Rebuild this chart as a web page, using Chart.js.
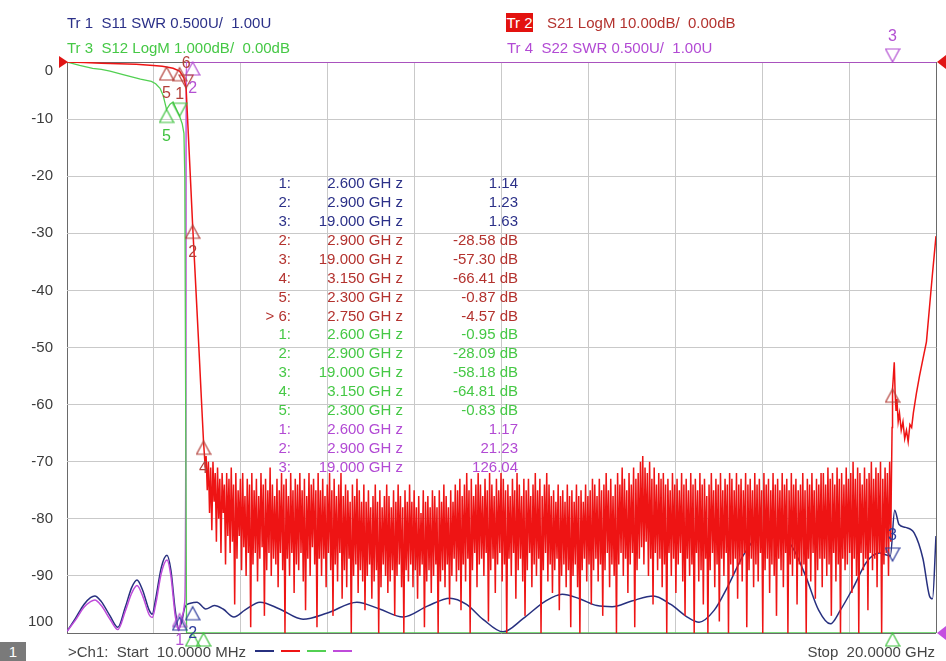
<!DOCTYPE html>
<html>
<head>
<meta charset="utf-8">
<script src="https://cdn.jsdelivr.net/npm/chart.js@4.4.1/dist/chart.umd.min.js"></script>
<style>
    html, body { margin: 0; padding: 0; background: #fff; }
    #wrap { position: relative; width: 946px; height: 661px; overflow: hidden; font-family: "Liberation Sans", Arial, sans-serif; }
    #vna { position: absolute; left: 0; top: 0; }
    .t { position: absolute; white-space: pre; font-size: 15px; line-height: 18px; }
    .r { text-align: right; }
    .c1 { color: #2b3088; }
    .c2 { color: #b3322e; }
    .c3 { color: #45c845; }
    .c4 { color: #b24ad4; }
    #tr2box { position: absolute; left: 506px; top: 13px; width: 27px; height: 19px; background: #e3120f; color: #fff; font-size: 15px; line-height: 19px; text-align: center; }
    #chbox { position: absolute; left: 0; top: 642px; width: 26px; height: 19px; background: #7a7a7a; color: #fff; font-size: 15px; line-height: 19px; text-align: center; }
    .dash { position: absolute; top: 650px; width: 19px; height: 2px; }
</style>
</head>
<body>
<div id="wrap">
    <canvas id="vna" width="946" height="661"></canvas>
    <div id="overlay"></div>
</div>
<script>
// --- Stimulus / axes ---
const xStart = 0.01;   // GHz
const xStop = 20.0;    // GHz
const yTickValues = [0, -10, -20, -30, -40, -50, -60, -70, -80, -90, -100];
const yTickLabels = ['0', '-10', '-20', '-30', '-40', '-50', '-60', '-70', '-80', '-90', '100'];

// --- Tr1 S11 SWR (screen units, 10 per division) ---
const s11Freq = [0.01, 0.2, 0.4, 0.55, 0.65, 0.8, 1.0, 1.18, 1.35, 1.5, 1.62, 1.75, 1.9, 1.97, 2.05, 2.18, 2.31, 2.4, 2.5, 2.58,
    2.65, 2.72, 2.85, 3.0, 3.2, 3.4, 3.6, 3.85, 4.1, 4.45, 4.9, 5.44, 6.0, 6.68, 7.2, 7.74, 8.3, 8.82, 9.2, 9.58,
    10.04, 10.5, 11.0, 11.4, 11.8, 12.2, 12.55, 13.0, 13.5, 13.9, 14.3, 14.55, 14.9, 15.2, 15.56, 15.9, 16.3, 16.7, 17.0, 17.3,
    17.57, 17.8, 18.1, 18.4, 18.7, 18.95, 19.05, 19.15, 19.3, 19.5, 19.7, 19.85, 19.92, 20.0];
const s11Val = [-99.7, -97.5, -95, -93.8, -93.5, -94.5, -97, -99, -95.5, -92, -90.7, -92.5, -96, -96.7, -94, -88.5, -86.4, -89, -96, -99.2,
    -98, -95.5, -94.8, -94.6, -95.8, -95.2, -95.8, -97.2, -96, -94.6, -95.8, -97.6, -96.5, -94.6, -95.8, -97.2, -95.3, -93.9, -95, -97.6,
    -99.8, -97.5, -94.5, -93.2, -94, -95.2, -95.4, -94.4, -93.5, -95, -97.3, -98.1, -96, -92, -86.5, -83, -82, -85, -90, -96,
    -98.4, -96, -92, -87.6, -86, -86.5, -78.5, -81, -81.5, -82.5, -87, -93.5, -94, -83];

// --- Tr4 S22 SWR (screen units, clipped at top) ---
const s22Freq = [0.01, 0.2, 0.4, 0.55, 0.65, 0.8, 1.0, 1.18, 1.35, 1.5, 1.62, 1.75, 1.9, 1.97, 2.05, 2.18, 2.31, 2.4, 2.5, 2.58,
    2.65, 2.72, 2.745, 2.75, 20.0];
const s22Val = [-99.7, -97.8, -95.5, -94.5, -94.2, -95.2, -97.6, -99.4, -96.2, -93, -91.7, -93.5, -96.8, -97.3, -95, -89.5, -87.2, -90, -97, -99.6,
    -97.2, -94.5, -60, 0, 0];

// --- Tr3 S12 LogM 1 dB/div (screen units, clipped at bottom) ---
const s12Freq = [0.01, 0.15, 0.3, 0.6, 0.8, 1.0, 1.3, 1.5, 1.7, 1.95, 2.05, 2.15, 2.22, 2.3, 2.38, 2.45, 2.52, 2.6, 2.66, 2.7,
    2.72, 2.74, 2.76, 20.0];
const s12Val = [0, -0.3, -0.6, -1.1, -1.3, -1.6, -2.2, -2.6, -3.0, -3.4, -3.8, -4.6, -5.8, -8.3, -7.4, -7.0, -8.2, -9.5, -10.8, -12.5,
    -20, -60, -100, -100];

// --- Tr2 S21 LogM 10 dB/div ---
const s21PassFreq = [0.01, 0.4, 0.8, 1.2, 1.6, 2.0, 2.2, 2.3, 2.45, 2.6, 2.7, 2.75, 2.8, 2.85, 2.9, 2.95, 3.0, 3.05, 3.1, 3.15, 3.19];
const s21PassVal = [0, -0.1, -0.2, -0.3, -0.4, -0.6, -0.75, -0.87, -1.1, -1.6, -2.8, -4.57, -12.5, -20.5, -28.58, -36, -43.5, -51, -58.8, -66.41, -71];

// stopband noise floor, sweep points from 3.21 to 18.96 GHz
const s21NoiseStart = 3.21;
const s21NoiseStop = 18.96;
const s21Noise = [
    -69, -75, -70, -79, -71, -82, -70, -77, -72, -84, -71, -80, -73, -86, -72, -79, -74, -88, -72, -83,
    -73, -86, -71, -84, -74, -95, -72, -87, -75, -83, -73, -89, -72, -85, -76, -90, -73, -86, -74, -99,
    -72, -88, -75, -86, -73, -91, -76, -87, -72, -85, -74, -97, -73, -89, -75, -86, -71, -90, -74, -87,
    -76, -88, -73, -92, -75, -86, -72, -89, -74, -100, -73, -87, -76, -90, -72, -86, -75, -93, -73, -88,
    -74, -89, -72, -86, -75, -91, -73, -96, -76, -87, -72, -90, -74, -85, -73, -88, -75, -99, -72, -87,
    -75, -90, -73, -87, -76, -92, -74, -86, -72, -89, -75, -97, -73, -88, -76, -91, -74, -86, -72, -94,
    -76, -89, -74, -92, -75, -87, -77, -100, -74, -90, -76, -88, -73, -93, -75, -89, -77, -91, -74, -96,
    -77, -90, -75, -88, -78, -94, -76, -91, -74, -89, -77, -100, -75, -92, -78, -88, -76, -90, -74, -93,
    -76, -91, -78, -89, -75, -97, -77, -90, -74, -88, -76, -92, -78, -100, -75, -89, -77, -91, -74, -88,
    -77, -92, -75, -89, -78, -94, -76, -90, -79, -88, -75, -99, -77, -91, -76, -89, -78, -93, -75, -90,
    -76, -88, -78, -100, -75, -91, -77, -89, -74, -92, -76, -88, -78, -95, -75, -90, -77, -87, -74, -91,
    -75, -89, -73, -96, -76, -88, -74, -91, -72, -87, -75, -100, -73, -89, -76, -86, -74, -92, -72, -88,
    -74, -87, -76, -90, -73, -86, -75, -98, -72, -89, -74, -87, -76, -93, -73, -88, -75, -86, -72, -91,
    -73, -88, -75, -100, -74, -87, -76, -90, -73, -86, -75, -94, -72, -89, -74, -87, -76, -91, -73, -97,
    -75, -89, -73, -86, -76, -92, -74, -88, -72, -90, -75, -87, -73, -100, -76, -89, -74, -86, -72, -91,
    -74, -88, -76, -93, -75, -89, -77, -87, -74, -96, -76, -90, -75, -88, -77, -92, -74, -89, -76, -99,
    -75, -90, -77, -88, -74, -92, -76, -100, -75, -89, -77, -87, -74, -91, -76, -88, -75, -95, -73, -89,
    -74, -87, -76, -91, -73, -88, -75, -97, -74, -89, -72, -86, -75, -92, -73, -88, -76, -90, -74, -100,
    -72, -88, -74, -86, -71, -90, -73, -87, -75, -93, -72, -88, -74, -86, -71, -99, -73, -89, -72, -87,
    -70, -85, -69, -88, -71, -84, -72, -90, -70, -87, -73, -95, -71, -86, -74, -89, -72, -87, -73, -92,
    -72, -88, -74, -100, -73, -86, -75, -90, -72, -87, -74, -93, -73, -88, -75, -86, -72, -91, -74, -97,
    -73, -87, -75, -90, -72, -88, -74, -100, -73, -86, -75, -91, -72, -89, -74, -95, -73, -87, -76, -100,
    -74, -89, -72, -86, -75, -92, -73, -88, -74, -98, -72, -87, -75, -90, -73, -86, -74, -100, -72, -88,
    -73, -90, -75, -87, -72, -94, -74, -88, -73, -91, -75, -86, -72, -99, -74, -89, -73, -87, -75, -92,
    -72, -88, -74, -91, -73, -86, -75, -100, -72, -89, -74, -87, -73, -93, -75, -88, -72, -90, -74, -97,
    -73, -87, -75, -89, -72, -92, -74, -86, -73, -100, -75, -88, -72, -90, -74, -87, -73, -95, -75, -88,
    -74, -90, -72, -88, -75, -100, -73, -87, -74, -91, -72, -86, -75, -94, -73, -89, -74, -87, -72, -92,
    -72, -87, -74, -90, -71, -88, -73, -97, -72, -86, -74, -91, -71, -88, -73, -100, -72, -87, -74, -89,
    -71, -88, -73, -86, -72, -93, -70, -87, -73, -90, -71, -100, -72, -86, -74, -89, -71, -87, -73, -96,
    -72, -86, -70, -89, -73, -87, -71, -92, -72, -86, -70, -100, -73, -88, -71, -86, -72, -90, -70, -84
];

const s21UpperFreq = [18.97, 18.99, 19.0, 19.02, 19.04, 19.06, 19.08, 19.1, 19.13, 19.16, 19.2, 19.24, 19.28, 19.32, 19.36, 19.4,
    19.44, 19.48, 19.55, 19.62, 19.7, 19.78, 19.85, 19.92, 20.0];
const s21UpperVal = [-76, -64, -57.3, -55, -52.6, -58, -61, -59, -63, -61.5, -64.5, -63, -66, -64.5, -66.5, -63.5,
    -64, -61.4, -58, -55, -52, -49, -43, -37, -30.5];

// --- Markers (frequency, screen value, label) ---
const s21MkFreq = [2.3, 2.6, 2.75, 2.9, 3.15, 19.0];
const s21MkVal = [-0.87, -1.0, -4.57, -28.58, -66.41, -57.3];
const s21MkLbl = ['5', '1', '6', '2', '4', ''];
const s12MkFreq = [2.3, 2.6, 2.9, 3.15, 19.0];
const s12MkVal = [-8.3, -9.5, -100, -100, -100];
const s12MkLbl = ['5', '', '', '', ''];
const s11MkFreq = [2.6, 2.9, 19.0];
const s11MkVal = [-97.2, -95.4, -87.4];
const s11MkLbl = ['', '2', '3'];
const s22MkFreq = [2.6, 2.9, 19.0];
const s22MkVal = [-96.6, 0, 0];
const s22MkLbl = ['1', '2', '3'];

// --- Marker readout table ---
const tblTrace = [1, 1, 1, 2, 2, 2, 2, 2, 3, 3, 3, 3, 3, 4, 4, 4];
const tblIdx = ['1:', '2:', '3:', '2:', '3:', '4:', '5:', '> 6:', '1:', '2:', '3:', '4:', '5:', '1:', '2:', '3:'];
const tblFreq = ['2.600 GH z', '2.900 GH z', '19.000 GH z', '2.900 GH z', '19.000 GH z', '3.150 GH z', '2.300 GH z', '2.750 GH z',
    '2.600 GH z', '2.900 GH z', '19.000 GH z', '3.150 GH z', '2.300 GH z', '2.600 GH z', '2.900 GH z', '19.000 GH z'];
const tblVal = ['1.14', '1.23', '1.63', '-28.58 dB', '-57.30 dB', '-66.41 dB', '-0.87 dB', '-4.57 dB',
    '-0.95 dB', '-28.09 dB', '-58.18 dB', '-64.81 dB', '-0.83 dB', '1.17', '21.23', '126.04'];

// --- Colours ---
const TRACE = { s11: '#27307f', s21: '#ee1414', s12: '#52d052', s22: '#bf4bda' };
const MARK = { s11: '#2d3b9c', s21: '#b3403a', s12: '#3fc23f', s22: '#b350d2' };

// --- Helpers ---
function pairs(freqs, vals) {
    return vals.map((v, i) => ({ x: freqs[i], y: v }));
}

function noisePoints() {
    const n = s21Noise.length;
    const step = (s21NoiseStop - s21NoiseStart) / (n - 1);
    return s21Noise.map((v, i) => ({ x: s21NoiseStart + i * step, y: v }));
}

// marker glyph: apex sits on the canvas centre, so it lands on the trace point
function makeTri(color, dir) {
    const c = document.createElement('canvas');
    c.width = 16; c.height = 30;
    const g = c.getContext('2d');
    g.strokeStyle = color;
    g.lineWidth = 1.2;
    g.beginPath();
    if (dir === 'up') {
        g.moveTo(8, 15); g.lineTo(15, 28); g.lineTo(1, 28);
    } else {
        g.moveTo(8, 15); g.lineTo(15, 2); g.lineTo(1, 2);
    }
    g.closePath();
    g.stroke();
    return c;
}

function markerSet(key, freqs, vals, lbls, dirs, order) {
    const up = makeTri(MARK[key], 'up');
    const down = makeTri(MARK[key], 'down');
    return {
        type: 'scatter',
        data: pairs(freqs, vals),
        labelsText: lbls,
        dirs: dirs,
        labelColor: MARK[key],
        pointStyle: dirs.map(d => d === 'up' ? up : down),
        pointRadius: 6,
        clip: false,
        order: order
    };
}

const xGrid = Array.from({ length: 11 }, (_, i) => xStart + i * (xStop - xStart) / 10);

// --- Plugins ---
const yLabels = {
    id: 'yLabels',
    afterDraw(chart) {
        const { ctx, chartArea: a, scales: { y } } = chart;
        ctx.save();
        ctx.font = '15px "Liberation Sans", Arial, sans-serif';
        ctx.fillStyle = '#3c3c3c';
        ctx.textAlign = 'right';
        ctx.textBaseline = 'middle';
        yTickValues.forEach((v, i) => {
            let py = y.getPixelForValue(v);
            py = Math.min(Math.max(py, a.top + 9), a.bottom - 11);
            ctx.fillText(yTickLabels[i], 53, py);
        });
        ctx.restore();
    }
};

const refMarks = {
    id: 'refMarks',
    afterDraw(chart) {
        const { ctx, scales: { y } } = chart;
        const y0 = y.getPixelForValue(0);
        const y100 = y.getPixelForValue(-100);
        ctx.save();
        ctx.fillStyle = '#e01515';
        ctx.beginPath(); ctx.moveTo(59, y0 - 6); ctx.lineTo(68, y0); ctx.lineTo(59, y0 + 6); ctx.fill();
        ctx.beginPath(); ctx.moveTo(946, y0 - 7); ctx.lineTo(937, y0); ctx.lineTo(946, y0 + 7); ctx.fill();
        ctx.fillStyle = '#c44fe0';
        ctx.beginPath(); ctx.moveTo(946, y100 - 7); ctx.lineTo(937, y100); ctx.lineTo(946, y100 + 7); ctx.fill();
        ctx.restore();
    }
};

const markerLabels = {
    id: 'markerLabels',
    afterDatasetsDraw(chart) {
        const ctx = chart.ctx;
        ctx.save();
        ctx.font = '16px "Liberation Sans", Arial, sans-serif';
        ctx.textAlign = 'center';
        ctx.textBaseline = 'middle';
        chart.data.datasets.forEach((ds, di) => {
            if (!ds.labelsText) return;
            const meta = chart.getDatasetMeta(di);
            ctx.fillStyle = ds.labelColor;
            meta.data.forEach((pt, i) => {
                const t = ds.labelsText[i];
                if (!t) return;
                const dy = ds.dirs[i] === 'up' ? 27 : -25;
                ctx.fillText(t, pt.x, pt.y + dy);
            });
        });
        ctx.restore();
    }
};

// --- Chart ---
const s21Data = pairs(s21PassFreq, s21PassVal).concat(noisePoints(), pairs(s21UpperFreq, s21UpperVal));

new Chart(document.getElementById('vna'), {
    type: 'line',
    data: {
        datasets: [
            markerSet('s21', s21MkFreq, s21MkVal, s21MkLbl, ['up', 'up', 'down', 'up', 'up', 'up'], 0),
            markerSet('s12', s12MkFreq, s12MkVal, s12MkLbl, ['up', 'down', 'up', 'up', 'up'], 0),
            markerSet('s11', s11MkFreq, s11MkVal, s11MkLbl, ['up', 'up', 'down'], 0),
            markerSet('s22', s22MkFreq, s22MkVal, s22MkLbl, ['up', 'up', 'down'], 0),
            { data: s21Data, borderColor: TRACE.s21, borderWidth: 1.5, pointRadius: 0, order: 1 },
            { data: pairs(s12Freq, s12Val), borderColor: TRACE.s12, borderWidth: 1.3, pointRadius: 0, order: 2 },
            { data: pairs(s22Freq, s22Val), borderColor: TRACE.s22, borderWidth: 1.5, pointRadius: 0, cubicInterpolationMode: 'monotone', order: 3 },
            { data: pairs(s11Freq, s11Val), borderColor: TRACE.s11, borderWidth: 1.5, pointRadius: 0, cubicInterpolationMode: 'monotone', order: 4 }
        ]
    },
    options: {
        responsive: false,
        animation: false,
        events: [],
        layout: { padding: { left: 67, top: 62, right: 10, bottom: 28 } },
        plugins: { legend: { display: false }, tooltip: { enabled: false } },
        scales: {
            x: {
                type: 'linear',
                min: xStart,
                max: xStop,
                afterBuildTicks: (scale) => { scale.ticks = xGrid.map(v => ({ value: v })); },
                afterFit: (scale) => { scale.height = 0; },
                ticks: { display: false },
                border: { display: false },
                grid: {
                    drawTicks: false,
                    lineWidth: 1,
                    color: (c) => (c.index === 0 || c.index === 10) ? '#6a6a6a' : '#c9c9c9'
                }
            },
            y: {
                min: -100,
                max: 0,
                ticks: { display: false, stepSize: 10 },
                afterFit: (scale) => { scale.width = 0; },
                border: { display: false },
                grid: {
                    drawTicks: false,
                    lineWidth: 1,
                    color: (c) => (c.tick && (c.tick.value === 0 || c.tick.value === -100)) ? '#6a6a6a' : '#c9c9c9'
                }
            }
        }
    },
    plugins: [yLabels, refMarks, markerLabels]
});

// --- Text overlay: headers, marker table, footer ---
const overlay = document.getElementById('overlay');

function addText(text, cls, left, centerY, rightAlign) {
    const d = document.createElement('div');
    d.className = 't ' + cls + (rightAlign ? ' r' : '');
    d.textContent = text;
    d.style.top = (centerY - 9) + 'px';
    if (rightAlign) {
        d.style.right = (946 - left) + 'px';
    } else {
        d.style.left = left + 'px';
    }
    overlay.appendChild(d);
}

addText('Tr 1  S11 SWR 0.500U/  1.00U', 'c1', 67, 23);
addText('Tr 3  S12 LogM 1.000dB/  0.00dB', 'c3', 67, 48);
const box = document.createElement('div');
box.id = 'tr2box';
box.textContent = 'Tr 2';
overlay.appendChild(box);
addText('S21 LogM 10.00dB/  0.00dB', 'c2', 547, 23);
addText('Tr 4  S22 SWR 0.500U/  1.00U', 'c4', 507, 48);

tblIdx.forEach((idx, i) => {
    const cy = 183 + i * 18.93;
    const cls = 'c' + tblTrace[i];
    addText(idx, cls, 291, cy, true);
    addText(tblFreq[i], cls, 403, cy, true);
    addText(tblVal[i], cls, 518, cy, true);
});

const ch = document.createElement('div');
ch.id = 'chbox';
ch.textContent = '1';
overlay.appendChild(ch);
addText('>Ch1:  Start  10.0000 MHz', '', 68, 652);
overlay.lastChild.style.color = '#454545';
[TRACE.s11, TRACE.s21, TRACE.s12, TRACE.s22].forEach((col, i) => {
    const d = document.createElement('div');
    d.className = 'dash';
    d.style.left = (255 + i * 26) + 'px';
    d.style.background = col;
    overlay.appendChild(d);
});
addText('Stop  20.0000 GHz', '', 935, 652, true);
overlay.lastChild.style.color = '#454545';
</script>
</body>
</html>
